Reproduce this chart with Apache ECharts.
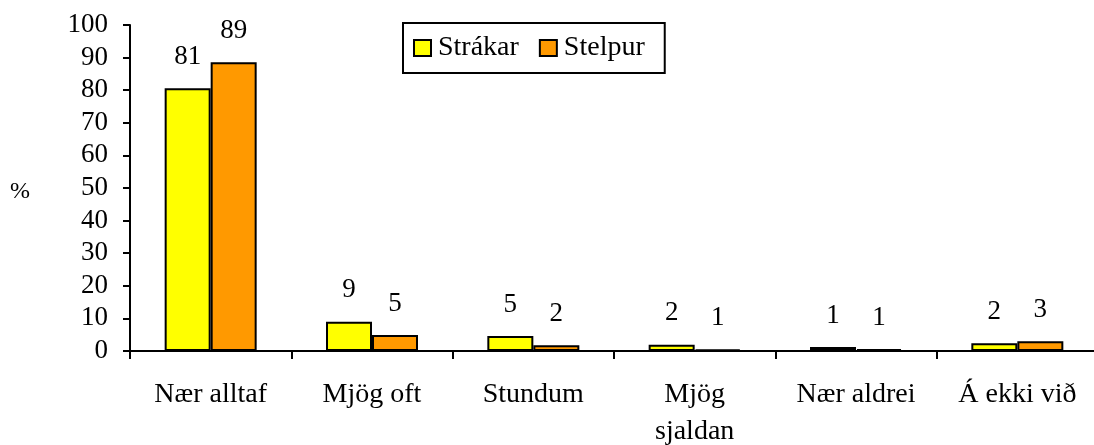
<!DOCTYPE html>
<html>
<head>
<meta charset="utf-8">
<script src="https://cdn.jsdelivr.net/npm/echarts@6/dist/echarts.min.js"></script>
<style>
html,body{margin:0;padding:0;background:#fff;}
#c{width:1094px;height:445px;}
</style>
</head>
<body>
<div id="c"></div>
<script>
const categories = ['Nær alltaf', 'Mjög oft', 'Stundum', 'Mjög\nsjaldan', 'Nær aldrei', 'Á ekki við'];
const strakar = [80.6, 9.0, 4.6, 1.9, 1.2, 2.4];
const stelpur = [88.6, 4.9, 1.8, 0.5, 0.6, 3.0];
const seriesNames = ['Strákar', 'Stelpur'];
const yAxisTitle = '%';
const yTicks = { min: 0, max: 100, interval: 10 };

const FONT = '"Liberation Serif", "Times New Roman", serif';
const chart = echarts.init(document.getElementById('c'), null, { renderer: 'canvas' });

const labelCfg = {
  show: true,
  position: 'top',
  distance: 18,
  color: '#000',
  fontFamily: FONT,
  fontSize: 27,
  formatter: p => String(Math.round(p.value))
};

chart.setOption({
  animation: false,
  backgroundColor: '#fff',
  textStyle: { fontFamily: FONT, color: '#000' },
  grid: { left: 130, right: -4, top: 25, bottom: 94, containLabel: false, outerBoundsMode: 'none' },
  graphic: [{
    type: 'text',
    left: 10,
    top: 180,
    style: { text: yAxisTitle, fill: '#000', font: '24px ' + FONT }
  }],
  legend: {
    left: 403,
    top: 23,
    orient: 'horizontal',
    borderColor: '#000',
    borderWidth: 2,
    padding: [11, 20, 11, 10],
    itemGap: 20,
    itemWidth: 17,
    itemHeight: 16,
    icon: 'rect',
    textStyle: { fontFamily: FONT, fontSize: 28, color: '#000', padding: [0, 0, 0, 2] },
    data: seriesNames
  },
  xAxis: {
    type: 'category',
    data: categories,
    boundaryGap: true,
    axisLine: { lineStyle: { color: '#000', width: 2 } },
    axisTick: { show: true, alignWithLabel: false, length: 8, lineStyle: { color: '#000', width: 2 } },
    axisLabel: { color: '#000', fontFamily: FONT, fontSize: 28, margin: 25, lineHeight: 37, interval: 0 },
    splitLine: { show: false }
  },
  yAxis: {
    type: 'value',
    min: yTicks.min,
    max: yTicks.max,
    interval: yTicks.interval,
    axisLine: { show: true, lineStyle: { color: '#000', width: 2 } },
    axisTick: { show: true, length: 7, lineStyle: { color: '#000', width: 2 } },
    axisLabel: { color: '#000', fontFamily: FONT, fontSize: 27, margin: 22 },
    splitLine: { show: false }
  },
  series: [
    {
      name: seriesNames[0],
      type: 'bar',
      data: strakar,
      barWidth: 46,
      barGap: '0%',
      itemStyle: { color: '#FFFF00', borderColor: '#000', borderWidth: 2 },
      label: labelCfg
    },
    {
      name: seriesNames[1],
      type: 'bar',
      data: stelpur,
      barWidth: 46,
      barGap: '0%',
      itemStyle: { color: '#FF9900', borderColor: '#000', borderWidth: 2 },
      label: labelCfg
    }
  ]
});
</script>
</body>
</html>
